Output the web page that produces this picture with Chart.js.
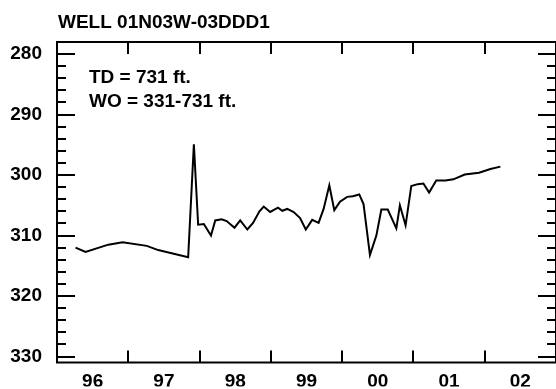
<!DOCTYPE html>
<html>
<head>
<meta charset="utf-8">
<script src="https://cdn.jsdelivr.net/npm/chart.js@4/dist/chart.umd.min.js"></script>
<style>
  html, body { margin: 0; padding: 0; background: #fff; }
  #wrap { position: relative; width: 556px; height: 389px; }
</style>
</head>
<body>
<div id="wrap"><canvas id="chart" width="556" height="389"></canvas></div>
<script>
// Well hydrograph: depth to water (ft below land surface) by sample date.
const wellName = 'WELL 01N03W-03DDD1';
const wellNotes = ['TD = 731 ft.', 'WO = 331-731 ft.'];

// Measurement dates as decimal years
const sampleYears = [
  1996.26, 1996.40, 1996.72, 1996.92, 1997.26, 1997.42, 1997.84, 1997.92,
  1997.98, 1998.06, 1998.16, 1998.22, 1998.31, 1998.38, 1998.49, 1998.57,
  1998.67, 1998.75, 1998.84, 1998.90, 1998.99, 1999.10, 1999.16, 1999.23,
  1999.32, 1999.41, 1999.49, 1999.58, 1999.67, 1999.74, 1999.82, 1999.89,
  1999.97, 2000.07, 2000.15, 2000.24, 2000.30, 2000.39, 2000.48, 2000.55,
  2000.64, 2000.76, 2000.81, 2000.89, 2000.97, 2001.06, 2001.14, 2001.22,
  2001.32, 2001.45, 2001.56, 2001.72, 2001.92, 2002.08, 2002.22
];
// Depth to water, feet
const waterLevels = [
  312.0, 312.7, 311.5, 311.1, 311.7, 312.4, 313.6, 294.9,
  308.2, 308.1, 310.0, 307.5, 307.3, 307.6, 308.7, 307.5,
  309.0, 307.9, 306.0, 305.2, 306.1, 305.4, 305.9, 305.6,
  306.1, 307.1, 309.0, 307.4, 307.9, 305.6, 301.7, 305.8,
  304.4, 303.6, 303.5, 303.2, 304.8, 313.2, 310.0, 305.7,
  305.7, 308.8, 305.0, 308.3, 301.8, 301.5, 301.4, 302.9,
  300.9, 300.9, 300.7, 299.9, 299.6, 299.0, 298.6
];

// Axis ticks
const yearTicks = [1997, 1998, 1999, 2000, 2001, 2002];
const yearLabelPositions = [1996.5, 1997.5, 1998.5, 1999.5, 2000.5, 2001.5, 2002.5];
const yearLabels = ['96', '97', '98', '99', '00', '01', '02'];
const depthTicks = [280, 290, 300, 310, 320, 330];
const depthMin = 278, depthMax = 331;
const yearMin = 1996, yearMax = 2003;
const minorDepthStep = 2;

const FONT = 'Liberation Sans, Arial, Helvetica, sans-serif';

const framePlugin = {
  id: 'frame',
  afterDraw(chart) {
    const { ctx, chartArea: a, scales } = chart;
    const xs = scales.x, ys = scales.y;
    ctx.save();
    ctx.strokeStyle = '#000';
    ctx.lineWidth = 2;
    ctx.lineCap = 'butt';
    // Box
    ctx.beginPath();
    ctx.moveTo(a.right + 2, a.top); ctx.lineTo(a.left, a.top);
    ctx.lineTo(a.left, a.bottom); ctx.lineTo(a.right + 2, a.bottom);
    ctx.moveTo(a.right, a.top); ctx.lineTo(a.right, a.bottom);
    ctx.stroke();
    // Year ticks, top and bottom, pointing in
    ctx.beginPath();
    yearTicks.forEach(v => {
      const px = Math.round(xs.getPixelForValue(v));
      ctx.moveTo(px, a.top); ctx.lineTo(px, a.top + 12);
      ctx.moveTo(px, a.bottom); ctx.lineTo(px, a.bottom - 12);
    });
    // Depth ticks, left and right, major and minor
    for (let d = depthMin; d <= depthMax; d += minorDepthStep) {
      if (d === depthMin) continue;
      const major = depthTicks.includes(d);
      const len = major ? 18 : 9;
      const py = Math.round(ys.getPixelForValue(d));
      ctx.moveTo(a.left, py); ctx.lineTo(a.left + len, py);
      ctx.moveTo(a.right, py); ctx.lineTo(a.right - len, py);
    }
    ctx.stroke();

    // Title and well notes
    ctx.fillStyle = '#000';
    ctx.textAlign = 'left';
    ctx.textBaseline = 'alphabetic';
    ctx.font = 'bold 19px ' + FONT;
    ctx.fillText(wellName, 58, 28);
    ctx.fillText(wellNotes[0], 89, 83);
    ctx.fillText(wellNotes[1], 89, 107);
    ctx.restore();
  }
};

new Chart(document.getElementById('chart'), {
  type: 'scatter',
  data: {
    datasets: [{
      data: sampleYears.map((x, i) => ({ x, y: waterLevels[i] })),
      showLine: true,
      borderColor: '#000',
      borderWidth: 2,
      pointRadius: 0,
      tension: 0,
      fill: false
    }]
  },
  options: {
    responsive: false,
    animation: false,
    devicePixelRatio: 1,
    layout: { padding: { top: 42, right: 0, left: 0, bottom: 0 } },
    plugins: {
      legend: { display: false },
      title: { display: false },
      tooltip: { enabled: false }
    },
    scales: {
      x: {
        type: 'linear',
        position: 'bottom',
        min: yearMin,
        max: yearMax,
        grid: { display: false, drawTicks: false },
        border: { display: false },
        afterBuildTicks(scale) {
          scale.ticks = yearLabelPositions.map(v => ({ value: v }));
        },
        afterFit(scale) { scale.height = 24; },
        ticks: {
          autoSkip: false,
          maxRotation: 0,
          padding: 8,
          color: '#000',
          font: { family: FONT, size: 19, weight: 'bold' },
          callback(value) {
            const i = yearLabelPositions.indexOf(value);
            return i >= 0 ? yearLabels[i] : '';
          }
        }
      },
      y: {
        type: 'linear',
        reverse: true,
        min: depthMin,
        max: depthMax,
        grid: { display: false, drawTicks: false },
        border: { display: false },
        afterBuildTicks(scale) {
          scale.ticks = depthTicks.map(v => ({ value: v }));
        },
        afterFit(scale) { scale.width = 57; },
        ticks: {
          padding: 15,
          color: '#000',
          font: { family: FONT, size: 19, weight: 'bold' },
          callback(value) { return String(value); }
        }
      }
    }
  },
  plugins: [framePlugin]
});
</script>
</body>
</html>
